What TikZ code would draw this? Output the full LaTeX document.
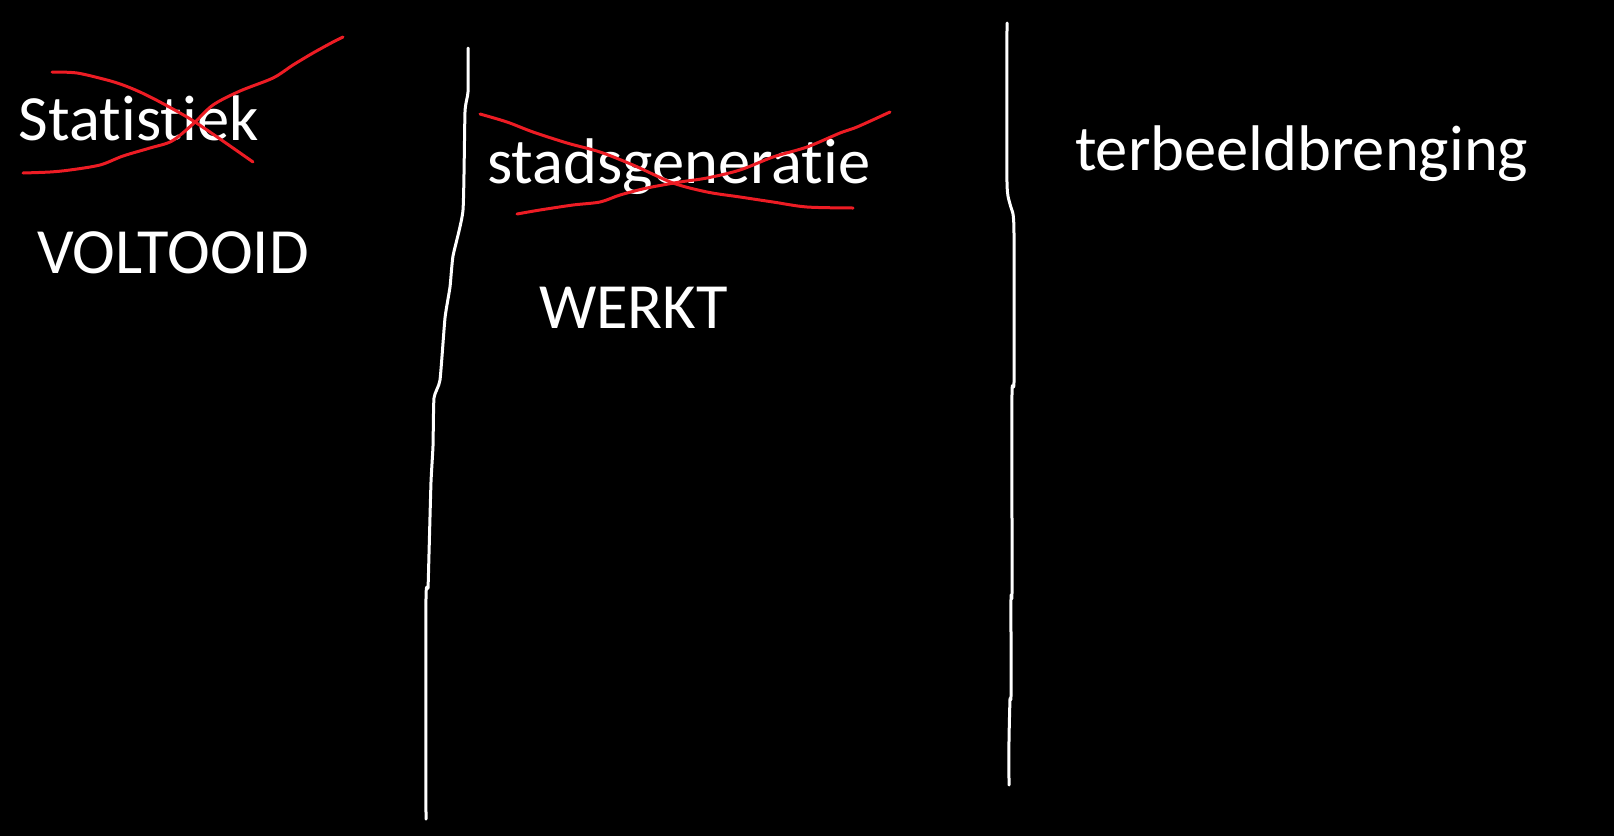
\documentclass[tikz,border=0pt]{standalone}
\usepackage{fontspec}
\setmainfont[Ligatures={NoCommon}]{Carlito}
\definecolor{strikered}{RGB}{237,28,36}
\begin{document}
\begin{tikzpicture}[x=1pt,y=-1pt,
  lbl/.style={anchor=base west,inner sep=0pt,outer sep=0pt,text=white,font=\fontsize{64.5}{77}\selectfont},
  divider/.style={draw=white,line width=3pt,line join=round,line cap=round},
  strike/.style={draw=strikered,line width=3pt,line join=round,line cap=round}]
\fill[black] (0,0) rectangle (1614,836);
\useasboundingbox (0,0) rectangle (1614,836);
% texts
\node[lbl] (stat) at (19,140) {Statistiek};
\node[lbl] (volt) at (37,273) {VOLTOOID};
\node[lbl] (stad) at (487,183) {stadsgeneratie};
\node[lbl] (werkt) at (539,328) {WERKT};
\node[lbl] (terb) at (1075,170) {terbeeldbrenging};
% dividers
\draw[divider] plot[smooth,tension=0.3] coordinates {(468,48) (468,92) (465,112) (463,210) (453,256) (450,287) (445,318) (440,380) (434,398) (433,446) (431,482) (429,554) (428,588) (426,598) (426,819)};
\draw[divider] plot[smooth,tension=0.3] coordinates {(1007,23) (1007,183) (1010,204) (1013,214) (1014,234) (1014,382) (1012,393) (1012,592) (1011,597) (1011,696) (1010,699) (1009,740) (1009,785)};
% strike-throughs
\draw[strike] plot[smooth,tension=0.5] coordinates {(52,72) (77,73) (107,80) (123,85) (140,92) (160,102) (187,117) (207,130) (233,148) (253,162)};
\draw[strike] plot[smooth,tension=0.5] coordinates {(23,173) (50,172) (70,170) (100,165) (123,156) (150,148) (172,141) (193,124) (213,105) (240,91) (273,78) (293,65) (313,53) (333,42) (343,37)};
\draw[strike] plot[smooth,tension=0.5] coordinates {(480,114) (507,122) (533,132) (567,143) (600,152) (633,165) (673,183) (707,192) (740,197) (773,202) (807,207) (853,208)};
\draw[strike] plot[smooth,tension=0.5] coordinates {(517,214) (540,210) (573,205) (600,202) (620,195) (647,188) (680,182) (707,178) (740,170) (773,157) (807,147) (840,133) (857,127) (890,112)};
\end{tikzpicture}
\end{document}
